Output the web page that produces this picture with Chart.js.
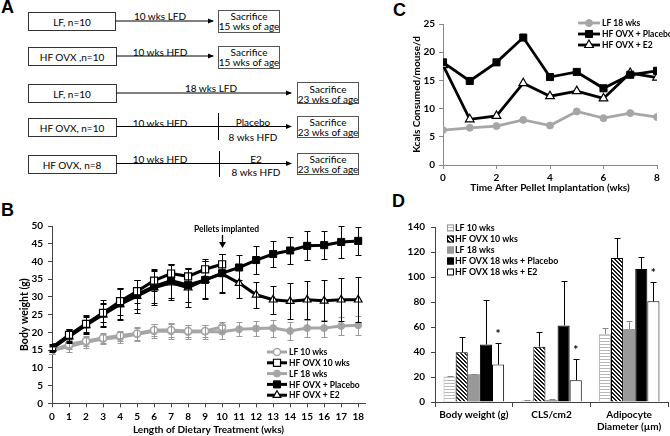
<!DOCTYPE html>
<html><head><meta charset="utf-8">
<script src="https://cdn.jsdelivr.net/npm/chart.js@4/dist/chart.umd.min.js"></script>
<style>
html,body{margin:0;padding:0;background:#fff}
body{width:670px;height:436px;position:relative;overflow:hidden}
canvas{position:absolute}
.pl{position:absolute;font:bold 18px "Liberation Sans",Arial,sans-serif;line-height:18px}
svg text{font-family:Lato,"Open Sans",sans-serif;font-size:10px}
</style></head><body>

<svg width="362" height="182" style="position:absolute;left:0;top:0">
<defs><marker id="ah" markerWidth="6" markerHeight="6" refX="5" refY="3" orient="auto" markerUnits="userSpaceOnUse"><path d="M0,0.5 L6,3 L0,5.5 z" fill="#000"/></marker></defs>
<g stroke="#333" stroke-width="1" fill="none">
<rect x="28.5" y="12.5" width="87" height="18"/>
<rect x="28.5" y="47.5" width="88" height="18"/>
<rect x="28.5" y="84.5" width="88" height="18"/>
<rect x="28.5" y="118.5" width="88" height="18"/>
<rect x="28.5" y="155.5" width="88" height="18"/>
<rect x="218.5" y="10.5" width="61" height="22" stroke="#555"/>
<rect x="218.5" y="46.5" width="61" height="22" stroke="#555"/>
<rect x="297.5" y="82.5" width="61" height="21" stroke="#555"/>
<rect x="297.5" y="116.5" width="61" height="21" stroke="#555"/>
<rect x="297.5" y="153.5" width="61" height="21" stroke="#555"/>
</g>
<g stroke="#000" stroke-width="1">
<line x1="115.5" y1="21" x2="213" y2="21" marker-end="url(#ah)"/>
<line x1="116.5" y1="56" x2="213" y2="56" marker-end="url(#ah)"/>
<line x1="116.5" y1="93" x2="291" y2="93" marker-end="url(#ah)"/>
<line x1="116.5" y1="126.5" x2="291" y2="126.5" marker-end="url(#ah)"/>
<line x1="116.5" y1="163.5" x2="291" y2="163.5" marker-end="url(#ah)"/>
<line x1="218.5" y1="113" x2="218.5" y2="140"/>
<line x1="219.5" y1="151" x2="219.5" y2="177"/>
</g>
<g text-anchor="middle" dominant-baseline="central">
<text x="72" y="21.5">LF, n=10</text>
<text x="72" y="56.5">HF OVX ,n=10</text>
<text x="72" y="93.5">LF, n=10</text>
<text x="72" y="127.5">HF OVX, n=10</text>
<text x="72" y="164.5">HF OVX, n=8</text>
<text x="160" y="15.5">10 wks LFD</text>
<text x="160" y="51.5">10 wks HFD</text>
<text x="211" y="88">18 wks LFD</text>
<text x="160" y="123">10 wks HFD</text>
<text x="160" y="158.5">10 wks HFD</text>
<text x="253" y="122">Placebo</text>
<text x="253" y="136.5">8 wks HFD</text>
<text x="256" y="158.5">E2</text>
<text x="256" y="171.5">8 wks HFD</text>
<text x="249" y="16">Sacrifice</text><text x="249" y="26">15 wks of age</text>
<text x="249" y="52">Sacrifice</text><text x="249" y="62">15 wks of age</text>
<text x="328" y="88.5">Sacrifice</text><text x="328" y="98.5">23 wks of age</text>
<text x="328" y="122">Sacrifice</text><text x="328" y="132">23 wks of age</text>
<text x="328" y="159">Sacrifice</text><text x="328" y="169">23 wks of age</text>
</g>
</svg>

<div class="pl" style="left:1px;top:-2px">A</div>
<div class="pl" style="left:1px;top:201px">B</div>
<div class="pl" style="left:393px;top:1px">C</div>
<div class="pl" style="left:392px;top:192px">D</div>

<canvas id="cB" width="375" height="221" style="left:0;top:215px"></canvas>
<canvas id="cC" width="315" height="200" style="left:355px;top:0"></canvas>
<canvas id="cD" width="315" height="236" style="left:355px;top:200px"></canvas>

<script>
// ---------- Panel B data ----------
const weeksB = [0,1,2,3,4,5,6,7,8,9,10,11,12,13,14,15,16,17,18];
const pelletWeek = 10;
const lf10B      = [14.9,16.6,17.6,18.4,19.1,19.7,20.7,20.7,20.4,20.4,21.5];
const lf10BErr   = [1.0,1.2,1.4,1.4,1.4,1.8,1.8,2.0,1.8,1.8,1.3];
const hf10B      = [15.8,19.3,22.4,25.5,28.8,31.6,34.6,36.6,35.8,37.8,39.2];
const hf10BErr   = [0.8,1.6,2.2,2.6,3.8,3.2,2.8,2.6,2.4,2.8,3.0];
const lf18B      = [14.9,16.0,17.2,18.1,18.6,19.5,20.3,20.3,20.1,20.2,20.2,20.9,21.1,21.2,20.4,21.2,21.2,21.8,22.0];
const lf18BErr   = [1.0,1.4,1.5,1.5,1.5,1.8,2.0,2.2,2.0,2.0,2.0,2.0,2.2,2.4,2.5,2.4,2.4,2.5,2.7];
const placeboB   = [15.6,19.1,22.3,25.3,28.2,30.7,33.0,34.6,33.4,34.8,36.7,38.3,40.4,42.1,43.1,44.4,44.6,45.5,45.8];
const placeboBErr= [0.8,1.8,2.6,3.8,4.3,4.0,4.8,4.8,4.8,5.2,5.4,3.5,3.9,3.8,3.7,4.1,4.0,4.4,4.0];
const e2B        = [15.4,18.8,22.0,25.0,27.9,30.2,32.6,34.0,32.6,34.8,36.5,33.9,30.6,29.2,28.8,29.2,28.9,29.2,29.2];
const e2BErr     = [0.8,1.8,2.4,3.2,4.4,4.6,5.0,5.0,5.4,5.4,5.5,4.2,3.7,4.0,5.0,5.3,5.8,6.0,6.4];

// ---------- Panel C data ----------
const weeksC    = [0,1,2,3,4,5,6,7,8];
const lf18C     = [6.2,6.6,6.9,8.0,7.0,9.5,8.3,9.2,8.5];
const placeboC  = [18.2,14.9,18.2,22.6,15.6,16.5,13.6,16.0,16.7];
const e2C       = [17.7,8.1,8.7,14.5,12.2,13.1,11.8,16.3,15.5];

// ---------- Panel D data ----------
const categoriesD = ['Body weight (g)', 'CLS/cm2', ['Adipocyte','Diameter (\u00b5m)']];
const lf10D       = [20.5, 1.5, 54.2];
const lf10DErr    = [0.4, 0.5, 5.3];
const hf10D       = [39.8, 44.3, 115.3];
const hf10DErr    = [12.2, 12.0, 15.7];
const lf18D       = [22.2, 1.6, 58.4];
const lf18DErr    = [0.5, 0.5, 6.5];
const placeboD    = [46.0, 61.3, 106.5];
const placeboDErr = [35.4, 35.7, 9.3];
const e2D         = [30.0, 17.4, 80.6];
const e2DErr      = [17.5, 17.3, 15.1];
const e2Signif    = [true, true, true];

const FONT = 'Lato, "Open Sans", sans-serif';
Chart.defaults.font.family = FONT;
Chart.defaults.color = '#000';
const GRAY = '#a6a6a6';

function pts(xs, arr){ return arr.map((v,i)=>({x: xs[i], y: v})); }

function drawMarker(ctx, style, r, x, y){
  ctx.beginPath();
  if (style === 'rect') { const s = r*Math.SQRT1_2; ctx.rect(x-s, y-s, 2*s, 2*s); }
  else if (style === 'triangle') {
    ctx.moveTo(x, y-r); ctx.lineTo(x + r*Math.sin(2*Math.PI/3), y + r/2); ctx.lineTo(x - r*Math.sin(2*Math.PI/3), y + r/2); ctx.closePath();
  } else { ctx.arc(x, y, r, 0, Math.PI*2); }
  ctx.fill(); ctx.stroke();
}

const errorPlugin = {
  id: 'errBars',
  afterDatasetsDraw(chart, args, o) {
    const ctx = chart.ctx, ys = chart.scales.y;
    chart.data.datasets.forEach((ds, i) => {
      if (!ds.errors) return;
      const meta = chart.getDatasetMeta(i);
      ctx.save();
      ctx.strokeStyle = ds.errorColor || '#000';
      ctx.lineWidth = 1;
      meta.data.forEach((el, j) => {
        const raw = ds.data[j];
        const v = (typeof raw === 'object') ? raw.y : raw;
        const e = ds.errors[j];
        if (e == null) return;
        const x = Math.round(el.x) + 0.5;
        const top = Math.round(ys.getPixelForValue(v + e)) + 0.5;
        const bot = o.upOnly ? ys.getPixelForValue(v) : Math.round(ys.getPixelForValue(v - e)) + 0.5;
        const cw = o.cap || 3;
        ctx.beginPath();
        ctx.moveTo(x, top); ctx.lineTo(x, bot);
        ctx.moveTo(x - cw, top); ctx.lineTo(x + cw, top);
        if (!o.upOnly) { ctx.moveTo(x - cw, bot); ctx.lineTo(x + cw, bot); }
        ctx.stroke();
      });
      ctx.restore();
    });
  }
};

const legendPlugin = {
  id: 'legendRows',
  afterDraw(chart, args, o) {
    if (!o || o.y0 == null) return;
    const ctx = chart.ctx;
    ctx.save();
    ctx.font = o.font;
    ctx.textBaseline = 'middle';
    ctx.textAlign = 'left';
    chart.data.datasets.forEach((ds, i) => {
      const y = o.y0 + i * o.dy;
      if (o.kind === 'box') {
        ctx.fillStyle = ds.backgroundColor;
        ctx.fillRect(o.x0, y - o.box/2, o.box, o.box);
        ctx.strokeStyle = ds.legendBorder || ds.borderColor;
        ctx.lineWidth = 1;
        ctx.strokeRect(o.x0 + 0.5, y - o.box/2 + 0.5, o.box - 1, o.box - 1);
      } else {
        ctx.strokeStyle = ds.borderColor; ctx.lineWidth = ds.borderWidth;
        ctx.beginPath(); ctx.moveTo(o.x0, y); ctx.lineTo(o.x1, y); ctx.stroke();
        ctx.fillStyle = ds.pointBackgroundColor; ctx.strokeStyle = ds.pointBorderColor; ctx.lineWidth = ds.pointBorderWidth;
        drawMarker(ctx, ds.pointStyle, ds.pointRadius, (o.x0 + o.x1)/2, y);
      }
      ctx.fillStyle = '#000';
      ctx.fillText(ds.label, o.tx, y + 0.5);
    });
    ctx.restore();
  }
};

const pelletPlugin = {
  id: 'pellet',
  afterDraw(chart, args, o) {
    const ctx = chart.ctx;
    const x = Math.round(chart.scales.x.getPixelForValue(pelletWeek)) + 0.5;
    ctx.save();
    ctx.font = 'bold 8.5px ' + FONT;
    ctx.textAlign = 'center'; ctx.textBaseline = 'middle';
    ctx.fillStyle = '#000';
    ctx.fillText('Pellets implanted', x + 4, o.textY);
    ctx.strokeStyle = '#000'; ctx.lineWidth = 1.3;
    ctx.beginPath(); ctx.moveTo(x, o.y1); ctx.lineTo(x, o.y2 - 4); ctx.stroke();
    ctx.beginPath(); ctx.moveTo(x - 3.5, o.y2 - 6); ctx.lineTo(x + 3.5, o.y2 - 6); ctx.lineTo(x, o.y2); ctx.closePath(); ctx.fill();
    ctx.restore();
  }
};

const starPlugin = {
  id: 'stars',
  afterDraw(chart, args, o) {
    const ctx = chart.ctx, ys = chart.scales.y;
    const meta = chart.getDatasetMeta(4);
    ctx.save();
    ctx.font = 'bold 12px ' + FONT;
    ctx.textAlign = 'center'; ctx.textBaseline = 'alphabetic';
    ctx.fillStyle = '#000';
    e2Signif.forEach((s, j) => {
      if (!s) return;
      const x = meta.data[j].x;
      const y = ys.getPixelForValue(e2D[j] + e2DErr[j]) - 5;
      ctx.fillText('*', x, y);
    });
    ctx.restore();
  }
};

function markerPaint(c, style, r, fill, bw){
  return {borderColor: c, pointStyle: style, pointRadius: r, pointHoverRadius: r,
          pointBackgroundColor: fill, pointBorderColor: c, pointBorderWidth: bw};
}

const tickFont = {family: FONT, weight: 'bold', size: 10};
const titleFont = {family: FONT, weight: 'bold', size: 10};

// ---------- Chart B ----------
new Chart(document.getElementById('cB'), {
  type: 'line',
  data: { datasets: [
    Object.assign({label:'LF 10 wks', data: pts(weeksB, lf10B), errors: lf10BErr, errorColor:'#9a9a9a', borderWidth:3, order:2}, markerPaint(GRAY,'circle',3.5,'#fff',1.5)),
    Object.assign({label:'HF OVX 10 wks', data: pts(weeksB, hf10B), errors: hf10BErr, errorColor:'#000', borderWidth:3, order:1}, markerPaint('#000','rect',5,'#fff',1.2)),
    Object.assign({label:'LF 18 wks', data: pts(weeksB, lf18B), errors: lf18BErr, errorColor:'#9a9a9a', borderWidth:3, order:2}, markerPaint(GRAY,'circle',3.5,GRAY,1)),
    Object.assign({label:'HF OVX + Placebo', data: pts(weeksB, placeboB), errors: placeboBErr, errorColor:'#000', borderWidth:3, order:1}, markerPaint('#000','rect',5,'#000',1)),
    Object.assign({label:'HF OVX + E2', data: pts(weeksB, e2B), errors: e2BErr, errorColor:'#000', borderWidth:3, order:1}, markerPaint('#000','triangle',4.5,'#fff',1.2))
  ]},
  options: {
    responsive:false, animation:false,
    layout: {padding: {top: 8.8, right: 10, left: 0, bottom: 0}},
    elements: {line: {tension: 0, fill: false}},
    plugins: {
      legend: {display:false}, tooltip: {enabled:false},
      errBars: {cap: 3},
      legendRows: {x0: 267, x1: 287, tx: 289, y0: 137, dy: 10.8, font: 'bold 8.5px ' + FONT},
      pellet: {textY: 14, y1: 20, y2: 33}
    },
    scales: {
      x: {type:'linear', min:0, max:18.4,
          ticks:{stepSize:1, includeBounds:false, autoSkip:false, maxRotation:0, padding:3, font:tickFont},
          grid:{drawOnChartArea:false, drawTicks:true, tickLength:4, color:'#444'},
          border:{color:'#444'},
          title:{display:true, text:'Length of Dietary Treatment (wks)', font:titleFont, padding:{top:0,bottom:0}},
          afterFit(s){ s.height = 32.7; }},
      y: {min:0, max:50,
          ticks:{stepSize:5, padding:5, font:tickFont},
          grid:{drawOnChartArea:false, drawTicks:true, tickLength:4, color:'#444'},
          border:{color:'#444'},
          title:{display:true, text:'Body weight (g)', font:{family:FONT, weight:'bold', size:10.5}, padding:{top:18.7,bottom:0}},
          afterFit(s){ s.width = 52; }}
    }
  },
  plugins: [errorPlugin, legendPlugin, pelletPlugin]
});

// ---------- Chart C ----------
new Chart(document.getElementById('cC'), {
  type: 'line',
  data: { datasets: [
    Object.assign({label:'LF 18 wks', data: pts(weeksC, lf18C), borderWidth:2.8, order:2}, markerPaint(GRAY,'circle',3.5,GRAY,1)),
    Object.assign({label:'HF OVX + Placebo', data: pts(weeksC, placeboC), borderWidth:2.8, order:1}, markerPaint('#000','rect',5,'#000',1)),
    Object.assign({label:'HF OVX + E2', data: pts(weeksC, e2C), borderWidth:2.8, order:1}, markerPaint('#000','triangle',5,'#fff',1.2))
  ]},
  options: {
    responsive:false, animation:false,
    layout: {padding: {top: 24, right: 13, left: 0, bottom: 0}},
    elements: {line: {tension: 0, fill: false}},
    plugins: {
      legend: {display:false}, tooltip: {enabled:false},
      legendRows: {x0: 223, x1: 245, tx: 247, y0: 23, dy: 11, font: 'bold 8.5px ' + FONT}
    },
    scales: {
      x: {type:'linear', min:0, max:8,
          ticks:{stepSize:2, autoSkip:false, maxRotation:0, padding:3, font:tickFont},
          grid:{drawOnChartArea:false, drawTicks:true, tickLength:4, color:'#888'},
          border:{color:'#888'},
          title:{display:true, text:'Time After Pellet Implantation (wks)', font:titleFont, padding:{top:0,bottom:6}},
          afterFit(s){ s.height = 35; }},
      y: {min:0, max:25,
          ticks:{stepSize:5, padding:4, font:tickFont},
          grid:{drawOnChartArea:false, drawTicks:true, tickLength:4, color:'#888'},
          border:{color:'#888'},
          title:{display:true, text:'Kcals Consumed/mouse/d', font:titleFont, padding:{top:56,bottom:0}},
          afterFit(s){ s.width = 88; }}
    }
  },
  plugins: [legendPlugin]
});

// ---------- Chart D ----------
function patternHLines(){
  const c = document.createElement('canvas'); c.width = 4; c.height = 3;
  const x = c.getContext('2d');
  x.fillStyle = '#fff'; x.fillRect(0,0,4,3);
  x.fillStyle = '#b8b8b8'; x.fillRect(0,0,4,1);
  return x.createPattern(c, 'repeat');
}
function patternDiag(){
  const c = document.createElement('canvas'); c.width = 4; c.height = 4;
  const x = c.getContext('2d');
  x.fillStyle = '#fff'; x.fillRect(0,0,4,4);
  x.fillStyle = '#1a1a1a';
  for (let i = 0; i < 4; i++) for (let j = 0; j < 4; j++) if (((i - j) % 4 + 4) % 4 < 2) x.fillRect(i, j, 1, 1);
  return x.createPattern(c, 'repeat');
}

new Chart(document.getElementById('cD'), {
  type: 'bar',
  data: { labels: categoriesD, datasets: [
    {label:'LF 10 wks', data: lf10D, errors: lf10DErr, errorColor:'#888', backgroundColor: patternHLines(), borderColor:'#aaa', borderWidth:1, legendBorder:'#999'},
    {label:'HF OVX 10 wks', data: hf10D, errors: hf10DErr, errorColor:'#000', backgroundColor: patternDiag(), borderColor:'#000', borderWidth:1},
    {label:'LF 18 wks', data: lf18D, errors: lf18DErr, errorColor:'#888', backgroundColor:'#999', borderColor:'#999', borderWidth:0, legendBorder:'#999'},
    {label:'HF OVX 18 wks + Placebo', data: placeboD, errors: placeboDErr, errorColor:'#000', backgroundColor:'#000', borderColor:'#000', borderWidth:1},
    {label:'HF OVX 18 wks + E2', data: e2D, errors: e2DErr, errorColor:'#000', backgroundColor:'#fff', borderColor:'#000', borderWidth:1}
  ]},
  options: {
    responsive:false, animation:false,
    layout: {padding: {top: 27, right: 2, left: 0, bottom: 0}},
    datasets: {bar: {categoryPercentage: 0.78, barPercentage: 1.0}},
    plugins: {
      legend: {display:false}, tooltip: {enabled:false},
      errBars: {upOnly: true, cap: 3},
      legendRows: {kind:'box', box: 7, x0: 92, tx: 100, y0: 28, dy: 11, font: 'bold 8.8px ' + FONT}
    },
    scales: {
      x: {ticks:{autoSkip:false, maxRotation:0, padding:2, font:{family:FONT, weight:'bold', size:10}},
          grid:{drawOnChartArea:false, drawTicks:true, tickLength:5, color:'#444', offset:true},
          border:{color:'#444'},
          afterFit(s){ s.height = 34; }},
      y: {min:0, max:140,
          ticks:{stepSize:20, padding:6, font:tickFont},
          grid:{drawOnChartArea:false, drawTicks:true, tickLength:4, color:'#444'},
          border:{color:'#444'},
          afterFit(s){ s.width = 80; }}
    }
  },
  plugins: [errorPlugin, legendPlugin, starPlugin]
});
</script>
</body></html>
